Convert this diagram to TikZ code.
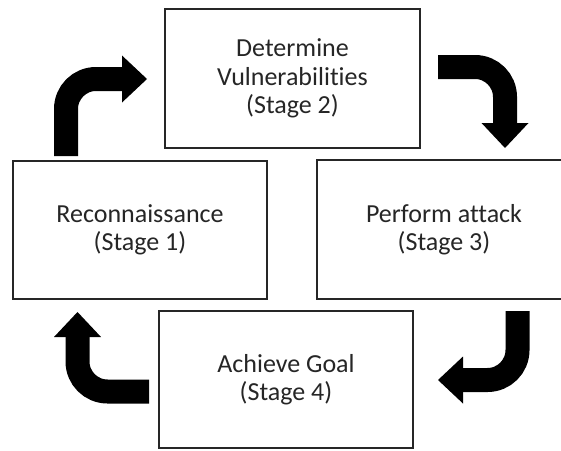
\documentclass[tikz,border=0pt]{standalone}
\usepackage{fontspec}
\setmainfont{Carlito}[Ligatures={NoCommon}]
\usetikzlibrary{arrows.meta,calc}
\begin{document}
\begin{tikzpicture}[x=1pt,y=-1pt,
  stagebox/.style={draw=black!85,line width=2pt,fill=white,inner sep=0pt,
    align=center,text=black!85,
    font=\fontsize{26}{28.5}\selectfont},
  bentarrow/.style={line width=24pt,rounded corners=30pt,
    -{Triangle[width=47pt,length=25pt,line width=0pt]}}]
\useasboundingbox (0,0) rectangle (561,450);
\clip (0,0) rectangle (561,450);
\fill[white] (0,0) rectangle (561,450);

% the four stages of the cycle
\node[stagebox,minimum width=254pt,minimum height=138pt] (s1) at (140,230)
  {Reconnaissance\\(Stage 1)};
\node[stagebox,minimum width=255pt,minimum height=139pt] (s2) at (292.5,78.5)
  {Determine\\Vulnerabilities\\(Stage 2)};
\node[stagebox,minimum width=254pt,minimum height=139pt] (s3) at (444,229.5)
  {Perform attack\\(Stage 3)};
\node[stagebox,minimum width=254pt,minimum height=137pt] (s4) at (286,379.5)
  {Achieve Goal\\(Stage 4)};

% bent block arrows leading from one stage to the next
\coordinate (a1s) at ([shift={(54,-4)}]s1.north west);
\coordinate (a1e) at ([shift={(-17,0.5)}]s2.west);
\draw[bentarrow] (a1s) |- (a1e);

\coordinate (a2s) at ([shift={(17,-11.5)}]s2.east);
\coordinate (a2e) at ([shift={(189,-11)}]s3.north west);
\draw[bentarrow] (a2s) -| (a2e);

\coordinate (a3s) at ([shift={(201.5,11)}]s3.south west);
\coordinate (a3e) at ([shift={(24,0.5)}]s4.east);
\draw[bentarrow] (a3s) |- (a3e);

\coordinate (a4s) at ([shift={(-9,12)}]s4.west);
\coordinate (a4e) at ([shift={(65.5,12)}]s1.south west);
\draw[bentarrow] (a4s) -| (a4e);
\end{tikzpicture}
\end{document}
